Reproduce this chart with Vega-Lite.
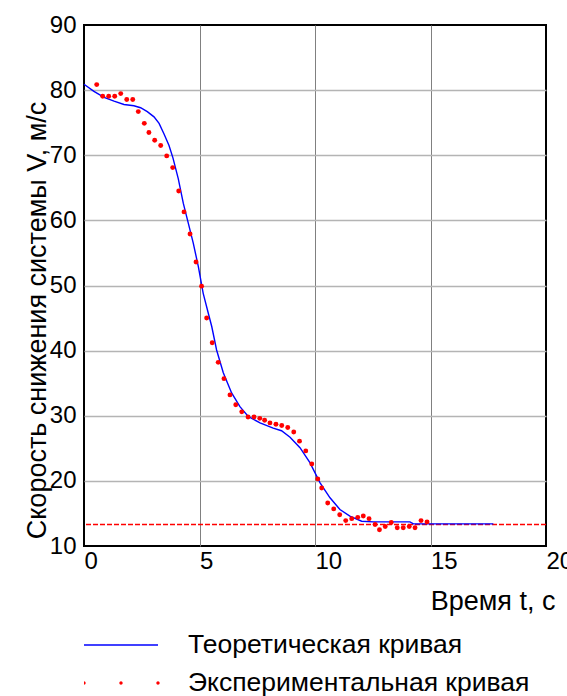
{
  "$schema": "https://vega.github.io/schema/vega-lite/v6.json",
  "width": 462,
  "height": 521,
  "autosize": {"type": "none"},
  "padding": {"left": 84, "top": 25, "right": 21, "bottom": 150},
  "background": "white",
  "config": {
    "font": "Liberation Sans",
    "view": {"stroke": "#000000", "strokeWidth": 2}
  },
  "datasets": {
    "curves": [
      {"series": "Теоретическая кривая", "t": 0, "v": 80.9},
      {"series": "Теоретическая кривая", "t": 0.43, "v": 79.8},
      {"series": "Теоретическая кривая", "t": 0.87, "v": 78.9},
      {"series": "Теоретическая кривая", "t": 1.3, "v": 78.3},
      {"series": "Теоретическая кривая", "t": 1.73, "v": 77.8},
      {"series": "Теоретическая кривая", "t": 2.16, "v": 77.6},
      {"series": "Теоретическая кривая", "t": 2.45, "v": 77.3},
      {"series": "Теоретическая кривая", "t": 2.74, "v": 76.7},
      {"series": "Теоретическая кривая", "t": 3.03, "v": 75.9},
      {"series": "Теоретическая кривая", "t": 3.25, "v": 74.9},
      {"series": "Теоретическая кривая", "t": 3.46, "v": 73.3},
      {"series": "Теоретическая кривая", "t": 3.68, "v": 71.5},
      {"series": "Теоретическая кривая", "t": 3.85, "v": 69.6},
      {"series": "Теоретическая кривая", "t": 4.08, "v": 66.4},
      {"series": "Теоретическая кривая", "t": 4.3, "v": 62.6},
      {"series": "Теоретическая кривая", "t": 4.52, "v": 59.5},
      {"series": "Теоретическая кривая", "t": 4.73, "v": 56.5},
      {"series": "Теоретическая кривая", "t": 4.95, "v": 52.9},
      {"series": "Теоретическая кривая", "t": 5.16, "v": 48.8},
      {"series": "Теоретическая кривая", "t": 5.42, "v": 45.2},
      {"series": "Теоретическая кривая", "t": 5.53, "v": 43.7},
      {"series": "Теоретическая кривая", "t": 5.74, "v": 40.1},
      {"series": "Теоретическая кривая", "t": 6.03, "v": 36.6},
      {"series": "Теоретическая кривая", "t": 6.39, "v": 33.5},
      {"series": "Теоретическая кривая", "t": 6.75, "v": 31.4},
      {"series": "Теоретическая кривая", "t": 7.11, "v": 29.9},
      {"series": "Теоретическая кривая", "t": 7.62, "v": 28.9},
      {"series": "Теоретическая кривая", "t": 8.19, "v": 28.1},
      {"series": "Теоретическая кривая", "t": 8.55, "v": 27.7},
      {"series": "Теоретическая кривая", "t": 8.92, "v": 26.7},
      {"series": "Теоретическая кривая", "t": 9.35, "v": 25.1},
      {"series": "Теоретическая кривая", "t": 9.78, "v": 22.8},
      {"series": "Теоретическая кривая", "t": 10.22, "v": 19.7},
      {"series": "Теоретическая кривая", "t": 10.65, "v": 17.4},
      {"series": "Теоретическая кривая", "t": 11.08, "v": 15.6},
      {"series": "Теоретическая кривая", "t": 11.51, "v": 14.6},
      {"series": "Теоретическая кривая", "t": 12.02, "v": 13.8},
      {"series": "Теоретическая кривая", "t": 12.52, "v": 13.7},
      {"series": "Теоретическая кривая", "t": 14.11, "v": 13.7},
      {"series": "Теоретическая кривая", "t": 14.26, "v": 13.4},
      {"series": "Теоретическая кривая", "t": 17.72, "v": 13.4},
      {"series": "Экспериментальная кривая", "t": 0.55, "v": 80.85},
      {"series": "Экспериментальная кривая", "t": 0.81, "v": 79.06},
      {"series": "Экспериментальная кривая", "t": 1.07, "v": 79.06},
      {"series": "Экспериментальная кривая", "t": 1.33, "v": 79.06},
      {"series": "Экспериментальная кривая", "t": 1.59, "v": 79.47},
      {"series": "Экспериментальная кривая", "t": 1.85, "v": 78.55},
      {"series": "Экспериментальная кривая", "t": 2.11, "v": 78.55},
      {"series": "Экспериментальная кривая", "t": 2.35, "v": 76.7},
      {"series": "Экспериментальная кривая", "t": 2.61, "v": 74.9},
      {"series": "Экспериментальная кривая", "t": 2.81, "v": 73.5},
      {"series": "Экспериментальная кривая", "t": 3.06, "v": 72.3},
      {"series": "Экспериментальная кривая", "t": 3.32, "v": 71.5},
      {"series": "Экспериментальная кривая", "t": 3.58, "v": 69.9},
      {"series": "Экспериментальная кривая", "t": 3.84, "v": 68.1},
      {"series": "Экспериментальная кривая", "t": 4.1, "v": 64.5},
      {"series": "Экспериментальная кривая", "t": 4.33, "v": 61.3},
      {"series": "Экспериментальная кривая", "t": 4.59, "v": 57.9},
      {"series": "Экспериментальная кривая", "t": 4.85, "v": 53.6},
      {"series": "Экспериментальная кривая", "t": 5.09, "v": 49.9},
      {"series": "Экспериментальная кривая", "t": 5.31, "v": 45.0},
      {"series": "Экспериментальная кривая", "t": 5.55, "v": 41.2},
      {"series": "Экспериментальная кривая", "t": 5.81, "v": 38.2},
      {"series": "Экспериментальная кривая", "t": 6.06, "v": 35.7},
      {"series": "Экспериментальная кривая", "t": 6.32, "v": 33.2},
      {"series": "Экспериментальная кривая", "t": 6.57, "v": 31.7},
      {"series": "Экспериментальная кривая", "t": 6.83, "v": 30.6},
      {"series": "Экспериментальная кривая", "t": 7.1, "v": 29.8},
      {"series": "Экспериментальная кривая", "t": 7.36, "v": 29.8},
      {"series": "Экспериментальная кривая", "t": 7.61, "v": 29.6},
      {"series": "Экспериментальная кривая", "t": 7.82, "v": 29.3},
      {"series": "Экспериментальная кривая", "t": 8.05, "v": 28.9},
      {"series": "Экспериментальная кривая", "t": 8.31, "v": 28.7},
      {"series": "Экспериментальная кривая", "t": 8.56, "v": 28.5},
      {"series": "Экспериментальная кривая", "t": 8.82, "v": 28.2},
      {"series": "Экспериментальная кривая", "t": 9.08, "v": 27.5},
      {"series": "Экспериментальная кривая", "t": 9.33, "v": 26.1},
      {"series": "Экспериментальная кривая", "t": 9.6, "v": 24.6},
      {"series": "Экспериментальная кривая", "t": 9.86, "v": 22.6},
      {"series": "Экспериментальная кривая", "t": 10.12, "v": 20.3},
      {"series": "Экспериментальная кривая", "t": 10.29, "v": 18.9},
      {"series": "Экспериментальная кривая", "t": 10.55, "v": 16.6},
      {"series": "Экспериментальная кривая", "t": 10.81, "v": 15.7},
      {"series": "Экспериментальная кривая", "t": 11.07, "v": 14.8},
      {"series": "Экспериментальная кривая", "t": 11.33, "v": 13.9},
      {"series": "Экспериментальная кривая", "t": 11.59, "v": 14.2},
      {"series": "Экспериментальная кривая", "t": 11.85, "v": 14.4},
      {"series": "Экспериментальная кривая", "t": 12.09, "v": 14.6},
      {"series": "Экспериментальная кривая", "t": 12.34, "v": 14.2},
      {"series": "Экспериментальная кривая", "t": 12.6, "v": 13.3},
      {"series": "Экспериментальная кривая", "t": 12.79, "v": 12.5},
      {"series": "Экспериментальная кривая", "t": 13.04, "v": 13.0},
      {"series": "Экспериментальная кривая", "t": 13.3, "v": 13.6},
      {"series": "Экспериментальная кривая", "t": 13.56, "v": 12.8},
      {"series": "Экспериментальная кривая", "t": 13.82, "v": 12.8},
      {"series": "Экспериментальная кривая", "t": 14.08, "v": 13.0},
      {"series": "Экспериментальная кривая", "t": 14.33, "v": 12.8},
      {"series": "Экспериментальная кривая", "t": 14.59, "v": 13.9},
      {"series": "Экспериментальная кривая", "t": 14.85, "v": 13.7}
    ],
    "level": [{"v": 13.3}]
  },
  "layer": [
    {
      "data": {"name": "level"},
      "mark": {"type": "rule", "color": "#ff0000", "strokeWidth": 1.5, "strokeDash": [5, 2]},
      "encoding": {
        "y": {"field": "v", "type": "quantitative", "title": "Скорость снижения системы V, м/с", "scale": {"domain": [10, 90], "nice": false, "zero": false}}
      }
    },
    {
      "data": {"name": "curves"},
      "transform": [{"filter": "datum.series == 'Теоретическая кривая'"}],
      "mark": {"type": "line", "color": "#0000ff", "strokeWidth": 1.4},
      "encoding": {
        "x": {
          "field": "t", "type": "quantitative", "title": "Время t, с",
          "scale": {"domain": [0, 20], "nice": false, "zero": false},
          "axis": {
            "values": [0, 5, 10, 15, 20],
            "ticks": false, "domain": false,
            "labelAlign": "left", "labelBaseline": "top", "labelPadding": 3,
            "labelFontSize": 24, "labelColor": "#000000", "labelFont": "Liberation Sans",
            "labelFlush": false, "labelOverlap": false, "labelBound": false,
            "gridColor": "#808080", "gridWidth": 1,
            "gridOpacity": {"condition": {"test": "datum.value == 0 || datum.value == 20", "value": 0}, "value": 1},
            "titleFontSize": 27, "titleFontWeight": "normal", "titleColor": "#000000", "titleFont": "Liberation Sans",
            "titleX": 471, "titleY": 63, "titleAlign": "right", "titleBaseline": "alphabetic", "titleAnchor": null
          }
        },
        "y": {
          "field": "v", "type": "quantitative", "title": "Скорость снижения системы V, м/с",
          "scale": {"domain": [10, 90], "nice": false, "zero": false},
          "axis": {
            "values": [10, 20, 30, 40, 50, 60, 70, 80, 90],
            "ticks": false, "domain": false,
            "labelPadding": 8, "labelFontSize": 24, "labelColor": "#000000", "labelFont": "Liberation Sans",
            "labelFlush": false, "labelOverlap": false, "labelBound": false,
            "gridColor": "#b4b4b4", "gridWidth": 1.5,
            "gridOpacity": {"condition": {"test": "datum.value == 10 || datum.value == 90", "value": 0}, "value": 1},
            "titleFontSize": 27, "titleFontWeight": "normal", "titleColor": "#000000", "titleFont": "Liberation Sans",
            "titleX": -39, "titleY": 295, "titleAngle": -90, "titleAlign": "center", "titleBaseline": "alphabetic", "titleAnchor": null
          }
        }
      }
    },
    {
      "data": {"name": "curves"},
      "transform": [{"filter": "datum.series == 'Экспериментальная кривая'"}],
      "mark": {"type": "point", "filled": true, "color": "#ff0000", "size": 24, "opacity": 1},
      "encoding": {
        "x": {"field": "t", "type": "quantitative", "title": "Время t, с"},
        "y": {"field": "v", "type": "quantitative", "title": "Скорость снижения системы V, м/с"}
      }
    },
    {
      "data": {"name": "curves"},
      "mark": {"type": "point", "filled": true, "opacity": 0},
      "encoding": {
        "x": {"field": "t", "type": "quantitative", "title": "Время t, с"},
        "y": {"field": "v", "type": "quantitative", "title": "Скорость снижения системы V, м/с"},
        "color": {
          "field": "series", "type": "nominal",
          "scale": {"domain": ["Теоретическая кривая", "Экспериментальная кривая"], "range": ["#0000ff", "#ff0000"]},
          "legend": {
            "orient": "none", "legendX": 0, "legendY": 610, "direction": "vertical", "title": null,
            "symbolSize": 5476, "symbolStrokeWidth": 0, "symbolOpacity": 1, "symbolOffset": 0,
            "labelFontSize": 26.5, "labelFont": "Liberation Sans", "labelColor": "#000000", "labelOffset": 30,
            "clipHeight": 20, "rowPadding": 11, "padding": 0, "labelLimit": 400
          }
        },
        "shape": {
          "field": "series", "type": "nominal",
          "scale": {
            "domain": ["Теоретическая кривая", "Экспериментальная кривая"],
            "range": [
              "M-1,-0.018L1,-0.018L1,0.018L-1,0.018Z",
              "M-1.045,0A0.045,0.045,0,1,0,-0.955,0A0.045,0.045,0,1,0,-1.045,0ZM-0.045,0A0.045,0.045,0,1,0,0.045,0A0.045,0.045,0,1,0,-0.045,0ZM0.955,0A0.045,0.045,0,1,0,1.045,0A0.045,0.045,0,1,0,0.955,0Z"
            ]
          },
          "legend": {
            "orient": "none", "legendX": 0, "legendY": 610, "direction": "vertical", "title": null,
            "symbolSize": 5476, "symbolStrokeWidth": 0, "symbolOpacity": 1, "symbolOffset": 0,
            "labelFontSize": 26.5, "labelFont": "Liberation Sans", "labelColor": "#000000", "labelOffset": 30,
            "clipHeight": 20, "rowPadding": 11, "padding": 0, "labelLimit": 400
          }
        }
      }
    }
  ]
}
